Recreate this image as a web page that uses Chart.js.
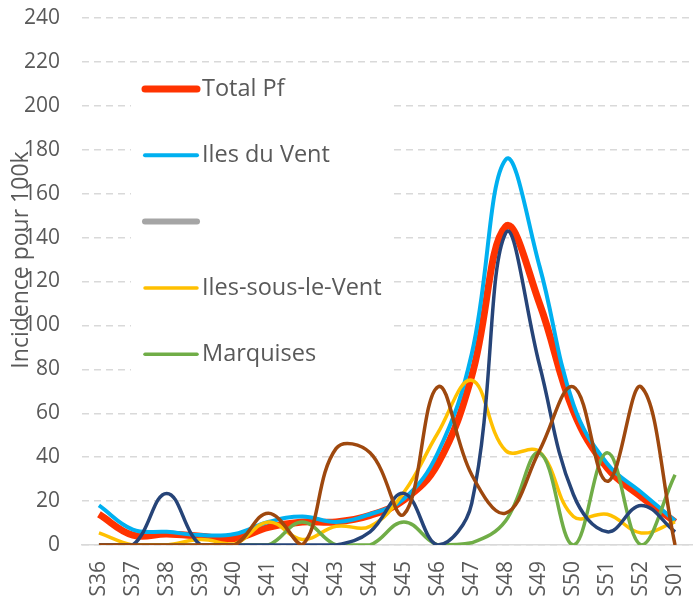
<!DOCTYPE html>
<html>
<head>
<meta charset="utf-8">
<script src="https://cdn.jsdelivr.net/npm/chart.js@4.4.0/dist/chart.umd.min.js"></script>
<style>
  body { margin: 0; background: #fff; }
  #wrap { width: 694px; height: 597px; position: relative; }
</style>
</head>
<body>
<div id="wrap"><canvas id="incidenceChart"></canvas></div>
<script>
// Weeks (categories)
const weeks = ['S36', 'S37', 'S38', 'S39', 'S40', 'S41', 'S42', 'S43', 'S44',
               'S45', 'S46', 'S47', 'S48', 'S49', 'S50', 'S51', 'S52', 'S01'];

// Incidence per 100k
const totalPf      = [14, 4.5, 5, 4, 3, 8, 10.5, 10.5, 13.5, 20.5, 37, 77, 145, 110, 61, 35, 22, 10.5];
const ilesDuVent   = [18, 7, 6, 4.5, 5, 10.5, 13, 10.5, 14, 21, 42, 87, 175.5, 127, 64, 37, 24, 11];
const unnamed      = weeks.map(() => null);
const ilesSousVent = [5.5, 0, 0, 2.5, 0.5, 10.5, 2.5, 8.5, 8.5, 24, 51, 75, 43, 42.5, 13, 14, 5.5, 10.5];
const marquises    = [0, 0, 0, 0, 0, 0, 10.5, 0, 0, 10.5, 0, 1, 11, 42, 0, 42, 0, 32];
const tuamotu      = [0, 0, 23.5, 0, 0, 0, 0, 0, 6, 23.5, 0, 19, 142, 82, 23, 6, 18, 6];
const australes    = [0, 0, 0, 0, 0, 14.5, 0, 44, 42, 14, 72, 32, 14.5, 43, 72, 29, 72, 0];

// y axis
const yMin = 0, yMax = 240, yStep = 20;

const textColor = '#595959';
const fontFamily = "'Open Sans', 'Noto Sans', sans-serif";

function series(label, data, color, width, order, inLegend) {
    return {
        label: label,
        data: data,
        borderColor: color,
        backgroundColor: color,
        borderWidth: width,
        pointRadius: 0,
        pointHoverRadius: 0,
        tension: 0.4,
        fill: false,
        order: order,
        inLegend: inLegend
    };
}

// Legend drawn inside the plot area, like the original
const insideLegend = {
    id: 'insideLegend',
    beforeDatasetsDraw(chart) {
        const ctx = chart.ctx;
        ctx.save();
        ctx.fillStyle = '#ffffff';
        ctx.fillRect(131, 66, 261, 312);
        let y = 89;
        chart.data.datasets.forEach(ds => {
            if (!ds.inLegend) return;
            ctx.strokeStyle = ds.borderColor;
            ctx.lineWidth = ds.borderWidth;
            ctx.lineCap = 'round';
            ctx.beginPath();
            ctx.moveTo(145, y);
            ctx.lineTo(197, y);
            ctx.stroke();
            ctx.fillStyle = textColor;
            ctx.font = '23.5px ' + fontFamily;
            ctx.textAlign = 'left';
            ctx.textBaseline = 'middle';
            ctx.fillText(ds.label, 202, y);
            y += 66.3;
        });
        ctx.restore();
    }
};

// Rotated y axis title
const yTitle = {
    id: 'yTitle',
    afterDraw(chart) {
        const ctx = chart.ctx;
        ctx.save();
        ctx.translate(21, 260);
        ctx.rotate(-Math.PI / 2);
        ctx.fillStyle = textColor;
        ctx.font = '23px ' + fontFamily;
        ctx.textAlign = 'center';
        ctx.textBaseline = 'middle';
        ctx.fillText('Incidence pour 100k', 0, 0);
        ctx.restore();
    }
};

const ctx = document.getElementById('incidenceChart').getContext('2d');
const chart = new Chart(ctx, {
    type: 'line',
    data: {
        labels: weeks,
        datasets: [
            series('Total Pf', totalPf, '#FF3300', 7, 6, true),
            series('Iles du Vent', ilesDuVent, '#00B0F0', 4, 5, true),
            series('', unnamed, '#A5A5A5', 6, 4, true),
            series('Iles-sous-le-Vent', ilesSousVent, '#FFC000', 3.5, 3, true),
            series('Marquises', marquises, '#70AD47', 3.5, 2, true),
            series('Tuamotu-Gambier', tuamotu, '#264478', 3.5, 1, false),
            series('Australes', australes, '#9E480E', 3.5, 0, false)
        ]
    },
    options: {
        responsive: true,
        maintainAspectRatio: false,
        animation: false,
        layout: {
            padding: { top: 18, right: 2, left: 0, bottom: 0 }
        },
        plugins: {
            legend: { display: false },
            tooltip: { enabled: false }
        },
        scales: {
            x: {
                offset: true,
                grid: { display: false, drawTicks: false },
                border: { display: true, color: '#D9D9D9', width: 1.5 },
                ticks: {
                    autoSkip: false,
                    maxRotation: 90,
                    minRotation: 90,
                    padding: 16,
                    color: textColor,
                    font: { family: fontFamily, size: 21 }
                },
                afterFit: function(scale) {
                    scale.height = 52;
                    scale.paddingLeft = 0;
                    scale.paddingRight = 0;
                }
            },
            y: {
                min: yMin,
                max: yMax,
                grid: { color: '#D9D9D9', lineWidth: 1.5, drawTicks: false },
                border: { display: false, dash: [7, 5] },
                ticks: {
                    stepSize: yStep,
                    padding: 22,
                    color: textColor,
                    font: { family: fontFamily, size: 21 }
                },
                afterFit: function(scale) {
                    scale.width = 82;
                    scale.paddingTop = 0;
                    scale.paddingBottom = 0;
                }
            }
        }
    },
    plugins: [insideLegend, yTitle]
});
</script>
</body>
</html>
